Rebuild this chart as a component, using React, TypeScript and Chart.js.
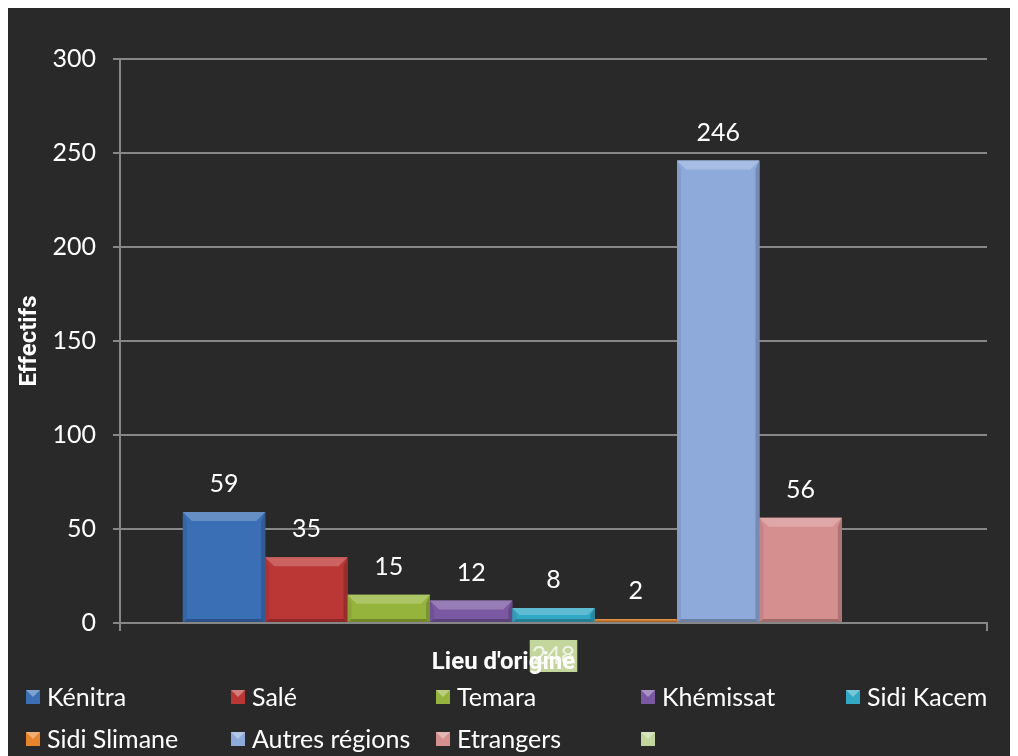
import React, { useEffect, useRef } from "react";
import { Chart, registerables } from "chart.js";

Chart.register(...registerables);

const categories = [""];
const seriesNames = [
  "Kénitra",
  "Salé",
  "Temara",
  "Khémissat",
  "Sidi Kacem",
  "Sidi Slimane",
  "Autres régions",
  "Etrangers",
  "",
];
const seriesValues: (number | null)[] = [59, 35, 15, 12, 8, 2, 246, 56, null];
const seriesColors = [
  "#3a6fb5",
  "#bb3735",
  "#95b43b",
  "#7a58a2",
  "#31a8c4",
  "#e8842a",
  "#8eaadb",
  "#d48f8e",
  "#c3d69b",
];
const strayLabel = "248";
const yMin = 0;
const yMax = 300;
const yStep = 50;
const yTitle = "Effectifs";
const xTitle = "Lieu d'origine";

const BG = "#292929";
const GRID = "#878787";
const BODY_FONT = "25px Lato";
const TITLE_FONT = "bold 24px Roboto";

function shade(hex: string, amt: number): string {
  const n = parseInt(hex.slice(1), 16);
  let r = (n >> 16) & 255,
    g = (n >> 8) & 255,
    b = n & 255;
  const f = (c: number) =>
    Math.round(amt >= 0 ? c + (255 - c) * amt : c * (1 + amt));
  r = f(r);
  g = f(g);
  b = f(b);
  return `rgb(${r},${g},${b})`;
}

function bevel(
  ctx: CanvasRenderingContext2D,
  x0: number,
  y0: number,
  x1: number,
  y1: number,
  color: string,
  t: number,
  s: number
) {
  const h = y1 - y0;
  const w = x1 - x0;
  t = Math.min(t, h / 2);
  s = Math.min(s, w / 2, h / 2);
  const bt = Math.min(3, h / 2);
  // top
  ctx.fillStyle = shade(color, 0.22);
  ctx.beginPath();
  ctx.moveTo(x0, y0);
  ctx.lineTo(x1, y0);
  ctx.lineTo(x1 - t, y0 + t);
  ctx.lineTo(x0 + t, y0 + t);
  ctx.closePath();
  ctx.fill();
  // left
  ctx.fillStyle = shade(color, -0.08);
  ctx.beginPath();
  ctx.moveTo(x0, y0);
  ctx.lineTo(x0 + s, y0 + t);
  ctx.lineTo(x0 + s, y1 - bt);
  ctx.lineTo(x0, y1);
  ctx.closePath();
  ctx.fill();
  // right
  ctx.fillStyle = shade(color, -0.18);
  ctx.beginPath();
  ctx.moveTo(x1, y0);
  ctx.lineTo(x1 - s, y0 + t);
  ctx.lineTo(x1 - s, y1 - bt);
  ctx.lineTo(x1, y1);
  ctx.closePath();
  ctx.fill();
  // bottom
  ctx.fillStyle = shade(color, -0.25);
  ctx.beginPath();
  ctx.moveTo(x0, y1);
  ctx.lineTo(x1, y1);
  ctx.lineTo(x1 - s, y1 - bt);
  ctx.lineTo(x0 + s, y1 - bt);
  ctx.closePath();
  ctx.fill();
}

const decorPlugin = {
  id: "decor",
  beforeDraw(chart: any) {
    const { ctx, width, height } = chart;
    ctx.save();
    ctx.fillStyle = BG;
    ctx.fillRect(0, 0, width, height);
    ctx.restore();
  },
  afterDatasetsDraw(chart: any) {
    const ctx: CanvasRenderingContext2D = chart.ctx;
    ctx.save();
    chart.data.datasets.forEach((ds: any, i: number) => {
      const meta = chart.getDatasetMeta(i);
      meta.data.forEach((el: any, j: number) => {
        const v = ds.data[j];
        if (v === null || v === undefined) return;
        const x0 = el.x - el.width / 2;
        const x1 = el.x + el.width / 2;
        const y0 = Math.min(el.y, el.base);
        const y1 = Math.max(el.y, el.base);
        bevel(ctx, x0, y0, x1, y1, seriesColors[i], 9, 4);
        ctx.fillStyle = "#ffffff";
        ctx.font = BODY_FONT;
        ctx.textAlign = "center";
        ctx.textBaseline = "middle";
        ctx.fillText(String(v), el.x, y0 - 28);
      });
    });
    ctx.restore();
  },
  afterDraw(chart: any) {
    const ctx: CanvasRenderingContext2D = chart.ctx;
    const area = chart.chartArea;
    const cx = (area.left + area.right) / 2;
    ctx.save();
    // stray data label of the unnamed series
    ctx.font = BODY_FONT;
    const tw = ctx.measureText(strayLabel).width;
    ctx.fillStyle = "#c3d69b";
    ctx.fillRect(cx - tw / 2 - 2, area.bottom + 17, tw + 4, 32);
    ctx.fillStyle = "#eef3e4";
    ctx.textAlign = "center";
    ctx.textBaseline = "middle";
    ctx.fillText(strayLabel, cx, area.bottom + 33);
    // x axis title
    ctx.font = TITLE_FONT;
    ctx.fillStyle = "#ffffff";
    ctx.fillText(xTitle, cx - 50, area.bottom + 40);
    // legend grid
    const colW = 205;
    const startX = 18;
    const rowY = [689, 731];
    ctx.font = BODY_FONT;
    ctx.textAlign = "left";
    seriesNames.forEach((name, i) => {
      const col = i % 5;
      const row = Math.floor(i / 5);
      const bx = startX + col * colW;
      const by = rowY[row];
      ctx.fillStyle = seriesColors[i];
      ctx.fillRect(bx, by - 7, 14, 14);
      ctx.fillStyle = shade(seriesColors[i], 0.35);
      ctx.beginPath();
      ctx.moveTo(bx, by - 7);
      ctx.lineTo(bx + 14, by - 7);
      ctx.lineTo(bx + 7, by);
      ctx.closePath();
      ctx.fill();
      ctx.fillStyle = "#ffffff";
      ctx.fillText(name, bx + 21, by + 1);
    });
    ctx.restore();
  },
};

export default function App() {
  const canvasRef = useRef<HTMLCanvasElement | null>(null);

  useEffect(() => {
    if (!canvasRef.current) return;
    const chart = new Chart(canvasRef.current, {
      type: "bar",
      data: {
        labels: categories,
        datasets: seriesNames.map((name, i) => ({
          label: name,
          data: [seriesValues[i]],
          backgroundColor: seriesColors[i],
          borderWidth: 0,
          categoryPercentage: 0.855,
          barPercentage: 1,
        })),
      },
      options: {
        responsive: false,
        animation: false,
        layout: { padding: { top: 51, right: 24, bottom: 0, left: 0 } },
        plugins: {
          legend: { display: false },
          tooltip: { enabled: false },
          title: { display: false },
        },
        scales: {
          x: {
            afterFit: (scale: any) => {
              scale.height = 133;
            },
            ticks: { display: false },
            grid: {
              display: true,
              drawOnChartArea: false,
              drawTicks: true,
              tickLength: 8,
              color: GRID,
              lineWidth: 2,
              offset: true,
            },
            border: { display: true, color: GRID, width: 2 },
          },
          y: {
            min: yMin,
            max: yMax,
            afterFit: (scale: any) => {
              scale.width = 112;
            },
            ticks: {
              stepSize: yStep,
              color: "#ffffff",
              font: { family: "Lato", size: 25 },
              padding: 17,
            },
            grid: {
              color: GRID,
              lineWidth: 2,
              tickLength: 7,
              drawTicks: true,
            },
            border: { display: true, color: GRID, width: 2 },
            title: {
              display: true,
              text: yTitle,
              color: "#ffffff",
              font: { family: "Roboto", size: 24, weight: "bold" },
              padding: { top: 8, bottom: 0 },
            },
          },
        },
      },
      plugins: [decorPlugin],
    });
    return () => chart.destroy();
  }, []);

  return (
    <canvas
      ref={canvasRef}
      width={1003}
      height={748}
      style={{ display: "block", width: 1003, height: 748 }}
    />
  );
}
